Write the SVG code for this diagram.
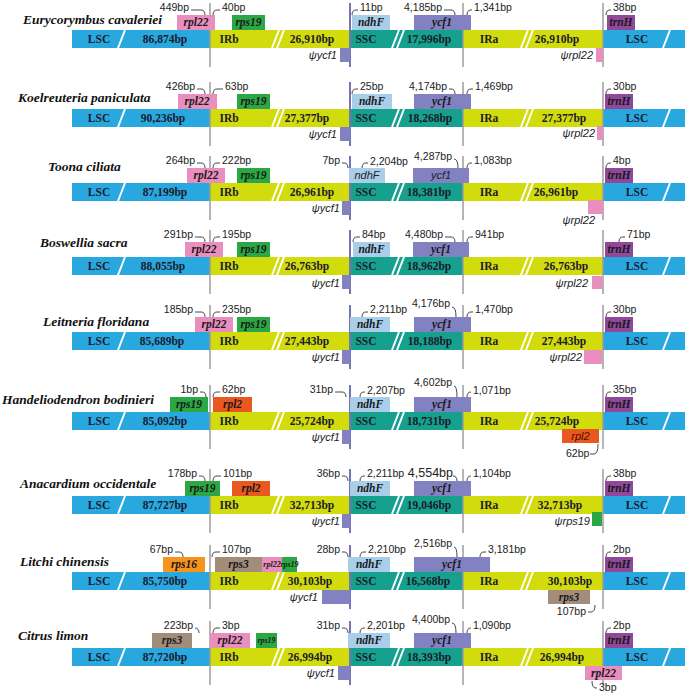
<svg xmlns="http://www.w3.org/2000/svg" width="685" height="695" viewBox="0 0 685 695">
<style>
.lsc{fill:#29A8E0}.ir{fill:#D2DB0B}.ssc{fill:#16A08E}
.sl{stroke:#fff;stroke-width:2;fill:none}
.seg{font-family:"Liberation Serif",serif;font-weight:bold;font-size:11.5px;fill:#1b1b2b;text-anchor:middle}
.ttl{font-family:"Liberation Serif",serif;font-weight:bold;font-style:italic;font-size:13.5px;fill:#111}
.g{font-family:"Liberation Serif",serif;font-weight:bold;font-style:italic;font-size:11.5px;fill:#1a1a1a;text-anchor:middle}
.sm{font-size:8px}
.gs{font-family:"Liberation Sans",sans-serif;font-style:italic;font-size:11px;fill:#222;text-anchor:middle}
.lb{font-family:"Liberation Sans",sans-serif;font-size:10.5px;fill:#222}
.e{text-anchor:end}
.psi{font-family:"Liberation Sans",sans-serif;font-style:italic;font-size:11px;fill:#222;text-anchor:end}
.hk{fill:none;stroke:#333;stroke-width:0.9}
.vl{stroke:#9C9C9C;stroke-width:1.5}
.vp{stroke:#7474B6;stroke-width:2}
.rpl22{fill:#E98EBF}.rps19{fill:#2BA744}.ndhF{fill:#A8CEEA}.ycf1{fill:#8282C2}.trnH{fill:#91489A}.rpl2{fill:#E8581F}.rps16{fill:#F7941D}.rps3{fill:#A28C7A}
</style>
<defs>
<g id="bar">
<rect class="lsc" x="72" y="0" width="138" height="18"/>
<rect class="ir" x="210" y="0" width="140" height="18"/>
<rect class="ssc" x="350" y="0" width="113" height="18"/>
<rect class="ir" x="463" y="0" width="140" height="18"/>
<rect class="lsc" x="603" y="0" width="82" height="18"/>
<path class="sl" d="M118,18L125,0M272,18L279,0M277,18L284,0M392,18L399,0M397,18L404,0M521,18L528,0M526,18L533,0M663,18L670,0"/>
</g>
<g id="lines">
<line class="vl" x1="210" y1="-27" x2="210" y2="37"/>
<line class="vp" x1="350" y1="-27" x2="350" y2="37"/>
<line class="vl" x1="463" y1="-27" x2="463" y2="37"/>
<line class="vl" x1="603" y1="-27" x2="603" y2="37"/>
</g>
</defs>

<!-- Row 1 -->
<g id="row1" transform="translate(0,30)">
<text class="ttl" x="23" y="-6">Eurycorymbus cavaleriei</text>
<use href="#bar"/>
<use href="#lines"/>
<text class="seg" x="99" y="13">LSC</text><text class="seg" x="165" y="13">86,874bp</text>
<text class="seg" x="229" y="13">IRb</text><text class="seg" x="312" y="13">26,910bp</text>
<text class="seg" x="366" y="13">SSC</text><text class="seg" x="429" y="13">17,996bp</text>
<text class="seg" x="489" y="13">IRa</text><text class="seg" x="557" y="13">26,910bp</text>
<text class="seg" x="637" y="13">LSC</text>
<g id="r1-rpl22"><rect class="rpl22" x="177" y="-15" width="38" height="15"/><text class="g" x="196" y="-4">rpl22</text></g>
<g id="r1-rps19"><rect class="rps19" x="232" y="-15" width="33" height="15"/><text class="g" x="248.5" y="-4">rps19</text></g>
<g id="r1-ndhF"><rect class="ndhF" x="352" y="-15" width="38" height="15"/><text class="g" x="371" y="-4">ndhF</text></g>
<g id="r1-ycf1"><rect class="ycf1" x="414" y="-15" width="57" height="15"/><text class="g" x="442" y="-4">ycf1</text></g>
<g id="r1-trnH"><rect class="trnH" x="607" y="-15" width="28" height="15"/><text class="g" x="621" y="-4">trnH</text></g>
<g id="r1-psiycf1"><rect class="ycf1" x="340" y="18" width="10" height="14"/><text class="psi" x="337" y="29">ψycf1</text></g>
<g id="r1-psirpl22"><rect class="rpl22" x="596" y="18" width="7" height="14"/><text class="psi" x="593" y="29">ψrpl22</text></g>
<g id="r1-conn" class="hk"><path d="M191,-20H201Q205,-20 205,-15M213,-15Q213,-20 217,-20H220M352,-15Q352,-20 356,-20H358M444,-20H451Q455,-20 455,-15M467,-15Q467,-20 471,-20H472M606,-15Q606,-20 610,-20H611"/></g>
<text class="lb e" x="189" y="-19">449bp</text><text class="lb" x="222" y="-19">40bp</text>
<text class="lb" x="360" y="-19">11bp</text><text class="lb e" x="442" y="-19">4,185bp</text>
<text class="lb" x="474" y="-19">1,341bp</text><text class="lb" x="613" y="-19">38bp</text>
</g>

<!-- Row 2 -->
<g id="row2" transform="translate(0,109)">
<text class="ttl" x="18" y="-7">Koelreuteria paniculata</text>
<use href="#bar"/>
<use href="#lines"/>
<text class="seg" x="99" y="13">LSC</text><text class="seg" x="163" y="13">90,236bp</text>
<text class="seg" x="229" y="13">IRb</text><text class="seg" x="307" y="13">27,377bp</text>
<text class="seg" x="366" y="13">SSC</text><text class="seg" x="430" y="13">18,268bp</text>
<text class="seg" x="489" y="13">IRa</text><text class="seg" x="564" y="13">27,377bp</text>
<text class="seg" x="637" y="13">LSC</text>
<g id="r2-rpl22"><rect class="rpl22" x="178" y="-15" width="39" height="15"/><text class="g" x="197" y="-4">rpl22</text></g>
<g id="r2-rps19"><rect class="rps19" x="237" y="-15" width="33" height="15"/><text class="g" x="253.5" y="-4">rps19</text></g>
<g id="r2-ndhF"><rect class="ndhF" x="352" y="-15" width="40" height="15"/><text class="g" x="372" y="-4">ndhF</text></g>
<g id="r2-ycf1"><rect class="ycf1" x="414" y="-15" width="57" height="15"/><text class="g" x="442" y="-4">ycf1</text></g>
<g id="r2-trnH"><rect class="trnH" x="605" y="-15" width="28" height="15"/><text class="g" x="619" y="-4">trnH</text></g>
<g id="r2-psiycf1"><rect class="ycf1" x="340" y="18" width="10" height="14"/><text class="psi" x="337" y="29">ψycf1</text></g>
<g id="r2-psirpl22"><rect class="rpl22" x="597" y="17" width="6" height="14"/><text class="psi" x="595" y="28">ψrpl22</text></g>
<g id="r2-conn" class="hk"><path d="M197,-20H201Q205,-20 205,-15M213,-15Q213,-20 217,-20H223M352,-15Q352,-20 356,-20H358M449,-20H451Q455,-20 455,-15M467,-15Q467,-20 471,-20H473M606,-15Q606,-20 610,-20H611"/></g>
<text class="lb e" x="195" y="-19">426bp</text><text class="lb" x="225" y="-19">63bp</text>
<text class="lb" x="360" y="-19">25bp</text><text class="lb e" x="447" y="-19">4,174bp</text>
<text class="lb" x="475" y="-19">1,469bp</text><text class="lb" x="613" y="-19">30bp</text>
</g>

<!-- Row 3 -->
<g id="row3" transform="translate(0,183)">
<text class="ttl" x="48" y="-12">Toona ciliata</text>
<use href="#bar"/>
<use href="#lines"/>
<text class="seg" x="99" y="13">LSC</text><text class="seg" x="165" y="13">87,199bp</text>
<text class="seg" x="229" y="13">IRb</text><text class="seg" x="312" y="13">26,961bp</text>
<text class="seg" x="366" y="13">SSC</text><text class="seg" x="429" y="13">18,381bp</text>
<text class="seg" x="489" y="13">IRa</text><text class="seg" x="556" y="13">26,961bp</text>
<text class="seg" x="637" y="13">LSC</text>
<g id="r3-rpl22"><rect class="rpl22" x="187" y="-15" width="38" height="15"/><text class="g" x="206" y="-4">rpl22</text></g>
<g id="r3-rps19"><rect class="rps19" x="237" y="-15" width="33" height="15"/><text class="g" x="253.5" y="-4">rps19</text></g>
<g id="r3-ndhF"><rect class="ndhF" x="349" y="-15" width="36" height="15"/><text class="gs" x="367" y="-4">ndhF</text></g>
<g id="r3-ycf1"><rect class="ycf1" x="413" y="-15" width="56" height="15"/><text class="gs" x="441" y="-4">ycf1</text></g>
<g id="r3-trnH"><rect class="trnH" x="605" y="-15" width="28" height="15"/><text class="g" x="619" y="-4">trnH</text></g>
<g id="r3-psiycf1"><rect class="ycf1" x="342" y="18" width="8" height="14"/><text class="psi" x="340" y="29">ψycf1</text></g>
<g id="r3-psirpl22"><rect class="rpl22" x="588" y="17" width="15" height="14"/><text class="psi" x="595" y="41">ψrpl22</text></g>
<g id="r3-conn" class="hk"><path d="M197,-20H201Q205,-20 205,-15M213,-15Q213,-20 217,-20H220M342,-20H344Q348,-20 348,-15M362,-15Q362,-20 366,-20H368M454,-24Q458,-24 458,-15M467,-15Q467,-20 471,-20H472M606,-15Q606,-20 610,-20H611"/></g>
<text class="lb e" x="195" y="-19">264bp</text><text class="lb" x="222" y="-19">222bp</text>
<text class="lb e" x="340" y="-19">7bp</text><text class="lb" x="370" y="-18">2,204bp</text>
<text class="lb e" x="452" y="-23">4,287bp</text>
<text class="lb" x="474" y="-19">1,083bp</text><text class="lb" x="613" y="-19">4bp</text>
</g>

<!-- Row 4 -->
<g id="row4" transform="translate(0,257)">
<text class="ttl" x="40" y="-10">Boswellia sacra</text>
<use href="#bar"/>
<use href="#lines"/>
<text class="seg" x="99" y="13">LSC</text><text class="seg" x="163" y="13">88,055bp</text>
<text class="seg" x="229" y="13">IRb</text><text class="seg" x="307" y="13">26,763bp</text>
<text class="seg" x="366" y="13">SSC</text><text class="seg" x="429" y="13">18,962bp</text>
<text class="seg" x="489" y="13">IRa</text><text class="seg" x="566" y="13">26,763bp</text>
<text class="seg" x="637" y="13">LSC</text>
<g id="r4-rpl22"><rect class="rpl22" x="185" y="-15" width="38" height="15"/><text class="g" x="204" y="-4">rpl22</text></g>
<g id="r4-rps19"><rect class="rps19" x="237" y="-15" width="33" height="15"/><text class="g" x="253.5" y="-4">rps19</text></g>
<g id="r4-ndhF"><rect class="ndhF" x="353" y="-15" width="37" height="15"/><text class="g" x="371.5" y="-4">ndhF</text></g>
<g id="r4-ycf1"><rect class="ycf1" x="413" y="-15" width="56" height="15"/><text class="g" x="441" y="-4">ycf1</text></g>
<g id="r4-trnH"><rect class="trnH" x="605" y="-15" width="28" height="15"/><text class="g" x="619" y="-4">trnH</text></g>
<g id="r4-psiycf1"><rect class="ycf1" x="342" y="18" width="8" height="14"/><text class="psi" x="340" y="30">ψycf1</text></g>
<g id="r4-psirpl22"><rect class="rpl22" x="592" y="19" width="10" height="13"/><text class="psi" x="588" y="30">ψrpl22</text></g>
<g id="r4-conn" class="hk"><path d="M195,-20H201Q205,-20 205,-15M213,-15Q213,-20 217,-20H220M353,-15Q353,-20 357,-20H360M445,-20H451Q455,-20 455,-15M467,-15Q467,-20 471,-20H473M619,-15Q619,-20 623,-20H625"/></g>
<text class="lb e" x="193" y="-19">291bp</text><text class="lb" x="222" y="-19">195bp</text>
<text class="lb" x="362" y="-19">84bp</text><text class="lb e" x="443" y="-19">4,480bp</text>
<text class="lb" x="475" y="-19">941bp</text><text class="lb" x="627" y="-19">71bp</text>
</g>

<!-- Row 5 -->
<g id="row5" transform="translate(0,332)">
<text class="ttl" x="43" y="-6">Leitneria floridana</text>
<use href="#bar"/>
<use href="#lines"/>
<text class="seg" x="99" y="13">LSC</text><text class="seg" x="162" y="13">85,689bp</text>
<text class="seg" x="229" y="13">IRb</text><text class="seg" x="307" y="13">27,443bp</text>
<text class="seg" x="366" y="13">SSC</text><text class="seg" x="430" y="13">18,188bp</text>
<text class="seg" x="489" y="13">IRa</text><text class="seg" x="564" y="13">27,443bp</text>
<text class="seg" x="637" y="13">LSC</text>
<g id="r5-rpl22"><rect class="rpl22" x="195" y="-15" width="38" height="15"/><text class="g" x="214" y="-4">rpl22</text></g>
<g id="r5-rps19"><rect class="rps19" x="237" y="-15" width="33" height="15"/><text class="g" x="253.5" y="-4">rps19</text></g>
<g id="r5-ndhF"><rect class="ndhF" x="350" y="-15" width="40" height="15"/><text class="g" x="370" y="-4">ndhF</text></g>
<g id="r5-ycf1"><rect class="ycf1" x="414" y="-15" width="57" height="15"/><text class="g" x="442" y="-4">ycf1</text></g>
<g id="r5-trnH"><rect class="trnH" x="605" y="-15" width="28" height="15"/><text class="g" x="619" y="-4">trnH</text></g>
<g id="r5-psiycf1"><rect class="ycf1" x="342" y="18" width="8" height="14"/><text class="psi" x="340" y="29">ψycf1</text></g>
<g id="r5-psirpl22"><rect class="rpl22" x="584" y="18" width="18" height="14"/><text class="psi" x="582" y="29">ψrpl22</text></g>
<g id="r5-conn" class="hk"><path d="M195,-20H201Q205,-20 205,-15M213,-15Q213,-20 217,-20H220M362,-15Q362,-20 366,-20H368M452,-25Q456,-25 456,-15M467,-15Q467,-20 471,-20H473M606,-15Q606,-20 610,-20H611"/></g>
<text class="lb e" x="193" y="-19">185bp</text><text class="lb" x="222" y="-19">235bp</text>
<text class="lb" x="370" y="-19">2,211bp</text><text class="lb e" x="450" y="-25">4,176bp</text>
<text class="lb" x="475" y="-19">1,470bp</text><text class="lb" x="613" y="-19">30bp</text>
</g>

<!-- Row 6 -->
<g id="row6" transform="translate(0,412)">
<text class="ttl" x="2" y="-8">Handeliodendron bodinieri</text>
<use href="#bar"/>
<use href="#lines"/>
<text class="seg" x="99" y="13">LSC</text><text class="seg" x="165" y="13">85,092bp</text>
<text class="seg" x="229" y="13">IRb</text><text class="seg" x="312" y="13">25,724bp</text>
<text class="seg" x="366" y="13">SSC</text><text class="seg" x="429" y="13">18,731bp</text>
<text class="seg" x="489" y="13">IRa</text><text class="seg" x="557" y="13">25,724bp</text>
<text class="seg" x="637" y="13">LSC</text>
<g id="r6-rps19"><rect class="rps19" x="170" y="-15" width="38" height="15"/><text class="g" x="189" y="-4">rps19</text></g>
<g id="r6-rpl2"><rect class="rpl2" x="213" y="-15" width="39" height="15"/><text class="g" x="232.5" y="-4">rpl2</text></g>
<g id="r6-ndhF"><rect class="ndhF" x="350" y="-15" width="40" height="15"/><text class="g" x="370" y="-4">ndhF</text></g>
<g id="r6-ycf1"><rect class="ycf1" x="414" y="-15" width="57" height="15"/><text class="g" x="442" y="-4">ycf1</text></g>
<g id="r6-trnH"><rect class="trnH" x="605" y="-15" width="28" height="15"/><text class="g" x="619" y="-4">trnH</text></g>
<g id="r6-psiycf1"><rect class="ycf1" x="342" y="18" width="8" height="14"/><text class="psi" x="340" y="29">ψycf1</text></g>
<g id="r6-rpl2b"><rect class="rpl2" x="562" y="17" width="37" height="14"/><text class="gs" x="580.5" y="28" style="fill:#4a1000">rpl2</text></g>
<g id="r6-conn" class="hk"><path d="M200,-20H202Q206,-20 206,-15M213,-15Q213,-20 217,-20H220M335,-20H342Q346,-20 346,-15M360,-15Q360,-20 364,-20H365M454,-26Q457,-26 457,-15M467,-15Q467,-20 471,-20H471M606,-15Q606,-20 610,-20H611M590,42H594Q598,42 598,32"/></g>
<text class="lb e" x="198" y="-19">1bp</text><text class="lb" x="222" y="-19">62bp</text>
<text class="lb e" x="333" y="-19">31bp</text><text class="lb" x="367" y="-18">2,207bp</text>
<text class="lb e" x="452" y="-26">4,602bp</text>
<text class="lb" x="473" y="-18">1,071bp</text><text class="lb" x="613" y="-19">35bp</text>
<text class="lb" x="566" y="45">62bp</text>
</g>

<!-- Row 7 -->
<g id="row7" transform="translate(0,496)">
<text class="ttl" x="20" y="-8">Anacardium occidentale</text>
<use href="#bar"/>
<use href="#lines"/>
<text class="seg" x="99" y="13">LSC</text><text class="seg" x="165" y="13">87,727bp</text>
<text class="seg" x="229" y="13">IRb</text><text class="seg" x="312" y="13">32,713bp</text>
<text class="seg" x="366" y="13">SSC</text><text class="seg" x="429" y="13">19,046bp</text>
<text class="seg" x="489" y="13">IRa</text><text class="seg" x="560" y="13">32,713bp</text>
<text class="seg" x="637" y="13">LSC</text>
<g id="r7-rps19"><rect class="rps19" x="185" y="-15" width="35" height="15"/><text class="g" x="202.5" y="-4">rps19</text></g>
<g id="r7-rpl2"><rect class="rpl2" x="232" y="-15" width="38" height="15"/><text class="g" x="251" y="-4">rpl2</text></g>
<g id="r7-ndhF"><rect class="ndhF" x="350" y="-15" width="40" height="15"/><text class="g" x="370" y="-4">ndhF</text></g>
<g id="r7-ycf1"><rect class="ycf1" x="414" y="-15" width="57" height="15"/><text class="g" x="442" y="-4">ycf1</text></g>
<g id="r7-trnH"><rect class="trnH" x="605" y="-15" width="28" height="15"/><text class="g" x="619" y="-4">trnH</text></g>
<g id="r7-psiycf1"><rect class="ycf1" x="342" y="18" width="8" height="14"/><text class="psi" x="340" y="29">ψycf1</text></g>
<g id="r7-psirps19"><rect class="rps19" x="592" y="16" width="10" height="14"/><text class="psi" x="590" y="29">ψrps19</text></g>
<g id="r7-conn" class="hk"><path d="M199,-20H201Q205,-20 205,-15M213,-15Q213,-20 217,-20H221M342,-20H344Q348,-20 348,-15M360,-15Q360,-20 364,-20H365M453,-20Q457,-20 457,-15M467,-15Q467,-20 471,-20H471M606,-15Q606,-20 610,-20H611"/></g>
<text class="lb e" x="197" y="-19">178bp</text><text class="lb" x="223" y="-19">101bp</text>
<text class="lb e" x="340" y="-19">36bp</text><text class="lb" x="367" y="-19">2,211bp</text>
<text class="lb e" x="453" y="-19" style="font-size:12.5px">4,554bp</text>
<text class="lb" x="473" y="-19">1,104bp</text><text class="lb" x="613" y="-19">38bp</text>
</g>

<!-- Row 8 -->
<g id="row8" transform="translate(0,572)">
<text class="ttl" x="20" y="-6">Litchi chinensis</text>
<use href="#bar"/>
<use href="#lines"/>
<text class="seg" x="99" y="13">LSC</text><text class="seg" x="165" y="13">85,750bp</text>
<text class="seg" x="229" y="13">IRb</text><text class="seg" x="310" y="13">30,103bp</text>
<text class="seg" x="366" y="13">SSC</text><text class="seg" x="428" y="13">16,568bp</text>
<text class="seg" x="489" y="13">IRa</text><text class="seg" x="570" y="13">30,103bp</text>
<text class="seg" x="637" y="13">LSC</text>
<g id="r8-rps16"><rect class="rps16" x="163" y="-15" width="42" height="15"/><text class="g" x="184" y="-4">rps16</text></g>
<g id="r8-rps3"><rect class="rps3" x="215" y="-15" width="47" height="15"/><text class="g" x="238.5" y="-4">rps3</text></g>
<g id="r8-rpl22"><rect class="rpl22" x="262" y="-15" width="20" height="15"/><text class="g sm" x="272" y="-5">rpl22</text></g>
<g id="r8-rps19"><rect class="rps19" x="282" y="-15" width="15" height="15"/><text class="g sm" x="289.5" y="-5">rps19</text></g>
<g id="r8-ndhF"><rect class="ndhF" x="348" y="-15" width="42" height="15"/><text class="g" x="369" y="-4">ndhF</text></g>
<g id="r8-ycf1"><rect class="ycf1" x="414" y="-15" width="76" height="15"/><text class="g" x="452" y="-4">ycf1</text></g>
<g id="r8-trnH"><rect class="trnH" x="605" y="-15" width="28" height="15"/><text class="g" x="619" y="-4">trnH</text></g>
<g id="r8-psiycf1"><rect class="ycf1" x="322" y="18" width="28" height="14"/><text class="psi" x="318" y="29">ψycf1</text></g>
<g id="r8-rps3b"><rect class="rps3" x="548" y="18" width="42" height="14"/><text class="g" x="569" y="29">rps3</text></g>
<g id="r8-conn" class="hk"><path d="M175,-20H179Q183,-20 183,-15M212,-15Q212,-20 216,-20H220M342,-20H344Q348,-20 348,-15M360,-15Q360,-20 364,-20H366M454,-25Q457,-25 457,-15M480,-15Q480,-20 484,-20H486M606,-15Q606,-20 610,-20H611M588,40H591Q595,40 595,33"/></g>
<text class="lb e" x="173" y="-19">67bp</text><text class="lb" x="222" y="-19">107bp</text>
<text class="lb e" x="340" y="-19">28bp</text><text class="lb" x="368" y="-19">2,210bp</text>
<text class="lb e" x="452" y="-25">2,516bp</text>
<text class="lb" x="488" y="-19">3,181bp</text><text class="lb" x="613" y="-19">2bp</text>
<text class="lb e" x="586" y="43">107bp</text>
</g>

<!-- Row 9 -->
<g id="row9" transform="translate(0,648)">
<text class="ttl" x="18" y="-8">Citrus limon</text>
<use href="#bar"/>
<use href="#lines"/>
<text class="seg" x="99" y="13">LSC</text><text class="seg" x="165" y="13">87,720bp</text>
<text class="seg" x="229" y="13">IRb</text><text class="seg" x="310" y="13">26,994bp</text>
<text class="seg" x="366" y="13">SSC</text><text class="seg" x="429" y="13">18,393bp</text>
<text class="seg" x="489" y="13">IRa</text><text class="seg" x="562" y="13">26,994bp</text>
<text class="seg" x="637" y="13">LSC</text>
<g id="r9-rps3"><rect class="rps3" x="152" y="-15" width="40" height="15"/><text class="g" x="172" y="-4">rps3</text></g>
<g id="r9-rpl22"><rect class="rpl22" x="210" y="-15" width="40" height="15"/><text class="g" x="230" y="-4">rpl22</text></g>
<g id="r9-rps19"><rect class="rps19" x="256" y="-15" width="21" height="15"/><text class="g sm" x="266.5" y="-5">rps19</text></g>
<g id="r9-ndhF"><rect class="ndhF" x="348" y="-15" width="42" height="15"/><text class="g" x="369" y="-4">ndhF</text></g>
<g id="r9-ycf1"><rect class="ycf1" x="414" y="-15" width="57" height="15"/><text class="g" x="442" y="-4">ycf1</text></g>
<g id="r9-trnH"><rect class="trnH" x="605" y="-15" width="28" height="15"/><text class="g" x="619" y="-4">trnH</text></g>
<g id="r9-psiycf1"><rect class="ycf1" x="338" y="18" width="12" height="14"/><text class="psi" x="335" y="29">ψycf1</text></g>
<g id="r9-rpl22b"><rect class="rpl22" x="585" y="18" width="37" height="14"/><text class="g" x="603.5" y="29">rpl22</text></g>
<g id="r9-conn" class="hk"><path d="M195,-20Q199,-20 199,-15M213,-15Q213,-20 217,-20H220M342,-20H344Q348,-20 348,-15M360,-15Q360,-20 364,-20H365M452,-25Q456,-25 456,-15M467,-15Q467,-20 471,-20H471M606,-15Q606,-20 610,-20H611M592,33Q592,40 596,40H597"/></g>
<text class="lb e" x="193" y="-19">223bp</text><text class="lb" x="222" y="-19">3bp</text>
<text class="lb e" x="340" y="-19">31bp</text><text class="lb" x="367" y="-19">2,201bp</text>
<text class="lb e" x="450" y="-25">4,400bp</text>
<text class="lb" x="473" y="-19">1,090bp</text><text class="lb" x="613" y="-19">2bp</text>
<text class="lb" x="599" y="43">3bp</text>
</g>
</svg>
